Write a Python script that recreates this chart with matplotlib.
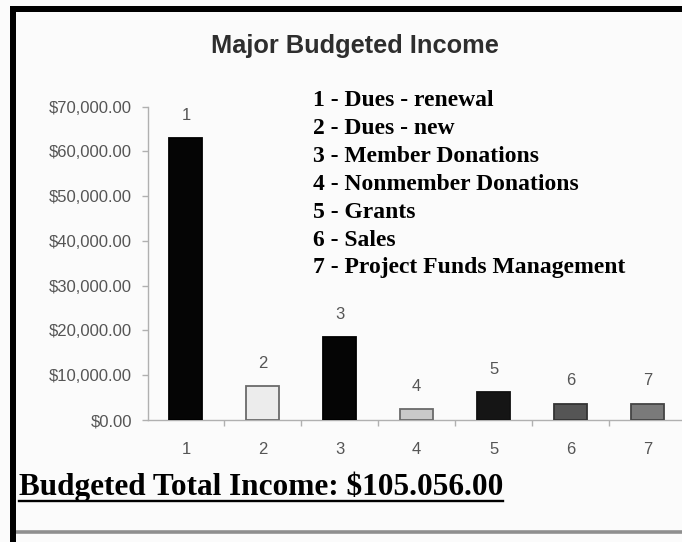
import matplotlib
matplotlib.use("Agg")
import matplotlib.pyplot as plt
from matplotlib.patches import Rectangle
from matplotlib.lines import Line2D
from matplotlib.ticker import FuncFormatter, FixedLocator

W, H = 682, 542

categories = [1, 2, 3, 4, 5, 6, 7]
values = [63000, 7600, 18500, 2500, 6200, 3650, 3650]
bar_fill = ["#050505", "#ececec", "#050505", "#c9c9c9", "#151515", "#555555", "#7a7a7a"]
bar_edge = ["#000000", "#6a6a6a", "#000000", "#6a6a6a", "#111111", "#333333", "#444444"]
yticks = [0, 10000, 20000, 30000, 40000, 50000, 60000, 70000]
legend_lines = ["1 - Dues - renewal", "2 - Dues - new", "3 - Member Donations",
                "4 - Nonmember Donations", "5 - Grants", "6 - Sales",
                "7 - Project Funds Management"]
title = "Major Budgeted Income"
total_text = "Budgeted Total Income: $105.056.00"

fig = plt.figure(figsize=(W / 100, H / 100), dpi=100)
fig.patch.set_facecolor("#fbfbfb")


def px_rect(x0, y0, x1, y1, color):
    fig.patches.append(Rectangle((x0 / W, 1 - y1 / H), (x1 - x0) / W, (y1 - y0) / H,
                                 transform=fig.transFigure, color=color, lw=0, zorder=5))


# axes
ax = fig.add_axes([147.5 / W, (H - 420) / H, (W - 147.5) / W, (420 - 106.7) / H])
ax.set_facecolor("none")
ax.bar(categories, values, width=0.43, color=bar_fill, edgecolor=bar_edge, linewidth=1.3, zorder=3)
ax.set_xlim(0.5, 7.45)
ax.set_ylim(0, 70000)
ax.yaxis.set_major_locator(FixedLocator(yticks))
ax.yaxis.set_major_formatter(FuncFormatter(lambda v, p: "${:,.2f}".format(v)))
ax.set_xticks(categories)
ax.set_xticklabels([str(c) for c in categories])
ax.xaxis.set_minor_locator(FixedLocator([1.5, 2.5, 3.5, 4.5, 5.5, 6.5]))
for s in ["top", "right"]:
    ax.spines[s].set_visible(False)
for s in ["left", "bottom"]:
    ax.spines[s].set_color("#b0b0b0")
    ax.spines[s].set_linewidth(1.0)
ax.tick_params(axis="y", length=4, width=1, color="#b0b0b0", pad=7,
               labelsize=12, labelcolor="#555555")
ax.tick_params(axis="x", which="major", length=0, pad=16, labelsize=12, labelcolor="#555555")
ax.tick_params(axis="x", which="minor", length=4, width=1, color="#b0b0b0", direction="out")
for lab in ax.get_xticklabels() + ax.get_yticklabels():
    lab.set_family("Liberation Sans")

for c, v in zip(categories, values):
    ax.annotate(str(c), (c, v), xytext=(0, 11), textcoords="offset points",
                ha="center", va="bottom", fontsize=12, color="#555555",
                family="Liberation Sans")

# title
fig.text(355 / W, 1 - 53 / H, title, ha="center", va="baseline", fontsize=18.3,
         fontweight="bold", color="#2e2e2e", family="Liberation Sans")

# legend text
for i, line in enumerate(legend_lines):
    fig.text(313 / W, 1 - (106 + 27.9 * i) / H, line, ha="left", va="baseline",
             fontsize=17, fontweight="bold", color="#000000", family="Liberation Serif")

# total text with underline
t = fig.text(19 / W, 1 - 495 / H, total_text, ha="left", va="baseline", fontsize=22.5,
             fontweight="bold", color="#000000", family="Liberation Serif")
fig.canvas.draw()
bb = t.get_window_extent(renderer=fig.canvas.get_renderer())
fig.lines.append(Line2D([bb.x0 / W, bb.x1 / W], [1 - 501 / H, 1 - 501 / H],
                        transform=fig.transFigure, color="#000000", lw=1.7))

# frame decorations
px_rect(10, 6, 16, 542, "#000000")
px_rect(10, 6, 682, 12, "#000000")
fig.lines.append(Line2D([16 / W, 1], [1 - 532 / H, 1 - 532 / H], transform=fig.transFigure,
                        color="#8f8f8f", lw=2.6))

fig.savefig("out.png", dpi=100, facecolor=fig.get_facecolor())
